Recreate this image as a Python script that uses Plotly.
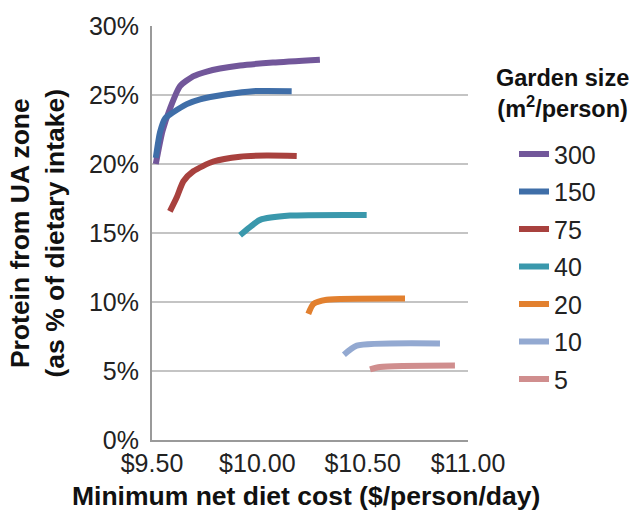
import plotly.graph_objects as go

# Garden size series (m2/person)
names = ["300", "150", "75", "40", "20", "10", "5"]
colors = ["#72579A", "#3F6EA8", "#A8413E", "#3A98AC", "#E2802F", "#93A9D1", "#D08E8E"]

x300 = [9.518, 9.55, 9.585, 9.633, 9.695, 9.76, 9.823, 9.918, 10.074, 10.297]
y300 = [20.0, 22.4, 24.0, 25.64, 26.35, 26.7, 26.92, 27.14, 27.35, 27.56]

x150 = [9.518, 9.538, 9.562, 9.600, 9.665, 9.728, 9.855, 9.979, 10.163]
y150 = [20.44, 22.3, 23.3, 23.74, 24.34, 24.69, 25.05, 25.28, 25.28]

x75 = [9.585, 9.617, 9.649, 9.696, 9.791, 9.918, 10.044, 10.187]
y75 = [16.57, 17.57, 18.75, 19.47, 20.18, 20.53, 20.61, 20.58]

x40 = [9.918, 9.965, 10.013, 10.155, 10.519]
y40 = [14.84, 15.43, 15.95, 16.26, 16.31]

x20 = [10.242, 10.266, 10.329, 10.701]
y20 = [9.14, 9.85, 10.16, 10.26]

x10 = [10.411, 10.472, 10.867]
y10 = [6.18, 6.84, 7.0]

x5 = [10.535, 10.582, 10.938]
y5 = [5.11, 5.29, 5.39]

xs = [x300, x150, x75, x40, x20, x10, x5]
ys = [y300, y150, y75, y40, y20, y10, y5]

y_ticks = [0, 5, 10, 15, 20, 25, 30]
y_ticktext = ["0%", "5%", "10%", "15%", "20%", "25%", "30%"]
x_ticks = [9.5, 10.0, 10.5, 11.0]
x_ticktext = ["$9.50", "$10.00", "$10.50", "$11.00"]

legend_title = "<b>Garden size<br>(m<sup>2</sup>/person)</b>"
x_title = "<b>Minimum net diet cost ($/person/day)</b>"
y_title = "<b>Protein from UA zone<br>(as % of dietary intake)</b>"

fig = go.Figure()
for n, c, xv, yv in zip(names, colors, xs, ys):
    fig.add_trace(go.Scatter(
        x=xv, y=yv, mode="lines", name=n, legendgroup=n,
        line=dict(color=c, width=6, shape="spline", smoothing=0.6),
    ))

font = "Liberation Sans, Arial, sans-serif"
fig.update_layout(
    width=631, height=519,
    margin=dict(l=152, r=163, t=19, b=79),
    paper_bgcolor="white", plot_bgcolor="white",
    font=dict(family=font, size=25, color="#222222"),
    showlegend=True,
    legend=dict(
        x=1.1456, xanchor="left", y=0.746, yanchor="top",
        font=dict(size=25, color="#222222"),
        tracegroupgap=2,
        itemwidth=30,
        bgcolor="rgba(0,0,0,0)",
    ),
    xaxis=dict(
        range=[9.5, 11.0], tickvals=x_ticks, ticktext=x_ticktext,
        showgrid=False, zeroline=False, showline=True, linecolor="#9A9A9A", linewidth=2,
        ticks="", tickfont=dict(size=25, color="#222222"),
        ticklabeloverflow="allow",
        fixedrange=True,
    ),
    yaxis=dict(
        range=[0, 30], tickvals=y_ticks, ticktext=y_ticktext,
        showgrid=True, gridcolor="#C4C4C4", gridwidth=1.5,
        zeroline=False, showline=True, linecolor="#9A9A9A", linewidth=2,
        ticks="", tickfont=dict(size=25, color="#222222"),
        ticklabelstandoff=6, ticklabeloverflow="allow",
        fixedrange=True,
    ),
    annotations=[
        dict(text=legend_title, xref="paper", yref="paper", x=1.3006, y=0.837,
             xanchor="center", yanchor="middle", showarrow=False,
             font=dict(size=23.5, color="#111111")),
        dict(text=x_title, xref="paper", yref="paper", x=0.4873, y=-0.1354,
             xanchor="center", yanchor="middle", showarrow=False,
             font=dict(size=26.5, color="#111111")),
        dict(text=y_title, xref="paper", yref="paper", x=-0.3624, y=0.5,
             xanchor="center", yanchor="middle", showarrow=False, textangle=-90,
             font=dict(size=26.5, color="#111111")),
    ],
)

fig.write_html(
    "out.html",
    config={"displayModeBar": False, "staticPlot": True},
    post_script="document.body.style.margin='0';document.body.style.overflow='hidden';",
)
